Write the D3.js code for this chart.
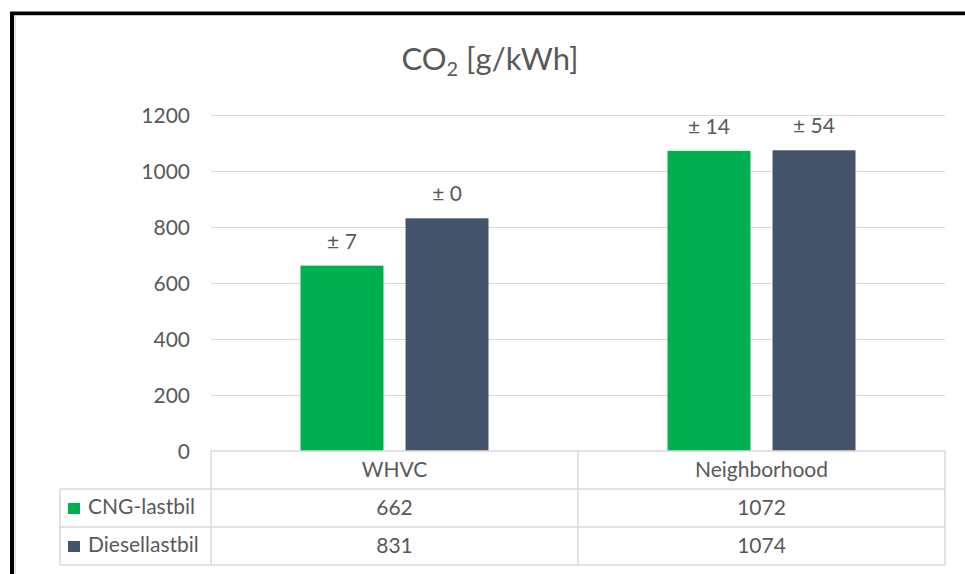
<!DOCTYPE html>
<html>
<head>
<meta charset="utf-8">
<script src="https://cdn.jsdelivr.net/npm/d3@7"></script>
<style>
  html, body { margin: 0; padding: 0; background: #fff; }
  svg { display: block; font-family: Lato, "Open Sans", sans-serif; }
</style>
</head>
<body>
<svg id="chart" width="965" height="574"></svg>
<script>
// Test cycles and vehicle types
const categories = ["WHVC", "Neighborhood"];
const seriesNames = ["CNG-lastbil", "Diesellastbil"];
// CO2 emissions in g/kWh
const cngValues = [662, 1072];
const dieselValues = [831, 1074];
// Spread (±) shown above each bar
const cngSpread = [7, 14];
const dieselSpread = [0, 54];
const yTicks = [0, 200, 400, 600, 800, 1000, 1200];
const seriesColors = ["#00b050", "#44546a"];

const series = [
  { name: seriesNames[0], values: cngValues, spread: cngSpread, color: seriesColors[0] },
  { name: seriesNames[1], values: dieselValues, spread: dieselSpread, color: seriesColors[1] }
];

const svg = d3.select("#chart");
const textColor = "#595959";
const lineColor = "#d9d9d9";
const fs = 21;

const plotLeft = 211, plotRight = 945, plotTop = 115, plotBottom = 451;
const rowH = 38;

const y = d3.scaleLinear().domain([0, 1200]).range([plotBottom, plotTop]);
const x = d3.scaleBand().domain(categories).range([plotLeft, plotRight]).padding(0);
const inner = d3.scaleBand().domain(seriesNames)
  .range([89.5, x.bandwidth() - 89.5]).paddingInner(0.21).paddingOuter(0);

// Outer frame
svg.append("rect").attr("x", 12).attr("y", 13.5).attr("width", 2000).attr("height", 2000)
  .attr("fill", "none").attr("stroke", "#000").attr("stroke-width", 4);
svg.append("path").attr("d", "M15,2000V15.5H965").attr("fill", "none")
  .attr("stroke", "#c8c8c8").attr("stroke-width", 1);

// Title
const title = svg.append("text").attr("x", 490).attr("y", 70)
  .attr("text-anchor", "middle").attr("fill", textColor).attr("font-size", 31);
title.append("tspan").text("CO");
title.append("tspan").attr("font-size", 20).attr("dy", 6).text("2");
title.append("tspan").attr("dy", -6).text(" [g/kWh]");

// Gridlines and y axis labels
const yAxis = d3.axisLeft(y).tickValues(yTicks).tickFormat(d3.format("d"))
  .tickSize(-(plotRight - plotLeft)).tickPadding(21);
const gy = svg.append("g").attr("transform", `translate(${plotLeft},0)`).call(yAxis);
gy.select(".domain").remove();
gy.selectAll(".tick line").attr("stroke", lineColor).attr("stroke-width", 1.2)
  .filter(d => d === 0).remove();
gy.selectAll(".tick text").attr("fill", textColor).attr("font-size", fs)
  .attr("font-family", "Lato, 'Open Sans', sans-serif").attr("dy", "0.36em");

// Bars
const groups = svg.append("g").selectAll("g").data(categories).join("g")
  .attr("transform", d => `translate(${x(d)},0)`);

groups.each(function(cat, i) {
  const g = d3.select(this);
  series.forEach(s => {
    g.append("rect")
      .attr("x", inner(s.name)).attr("width", inner.bandwidth())
      .attr("y", y(s.values[i])).attr("height", y(0) - y(s.values[i]))
      .attr("fill", s.color);
    g.append("text")
      .attr("x", inner(s.name) + inner.bandwidth() / 2)
      .attr("y", y(s.values[i]) - 17)
      .attr("text-anchor", "middle").attr("fill", textColor).attr("font-size", fs)
      .text("± " + s.spread[i]);
  });
});

// Data table
const table = svg.append("g").attr("fill", "none").attr("stroke", lineColor).attr("stroke-width", 1.5);
const legendLeft = 60;
table.append("path").attr("d",
  `M${plotLeft},${plotBottom + rowH * 3}V${plotBottom}H${plotRight}V${plotBottom + rowH * 3}` +
  `M${x(categories[1])},${plotBottom}V${plotBottom + rowH * 3}` +
  `M${legendLeft},${plotBottom + rowH}H${plotRight}` +
  `M${legendLeft},${plotBottom + rowH * 2}H${plotRight}` +
  `M${legendLeft},${plotBottom + rowH * 3}H${plotRight}` +
  `M${legendLeft},${plotBottom + rowH}V${plotBottom + rowH * 3}`);

svg.append("g").selectAll("text").data(categories).join("text")
  .attr("x", d => x(d) + x.bandwidth() / 2).attr("y", plotBottom + 26)
  .attr("text-anchor", "middle").attr("fill", textColor).attr("font-size", fs)
  .text(d => d);

series.forEach((s, r) => {
  const rowY = plotBottom + rowH * (r + 1);
  svg.append("rect").attr("x", 68).attr("y", rowY + 14).attr("width", 12).attr("height", 11)
    .attr("fill", s.color);
  svg.append("text").attr("x", 88).attr("y", rowY + 25).attr("fill", textColor)
    .attr("font-size", fs).text(s.name);
  svg.append("g").selectAll("text").data(categories).join("text")
    .attr("x", d => x(d) + x.bandwidth() / 2).attr("y", rowY + 26)
    .attr("text-anchor", "middle").attr("fill", textColor).attr("font-size", fs)
    .text((d, i) => s.values[i]);
});
</script>
</body>
</html>
